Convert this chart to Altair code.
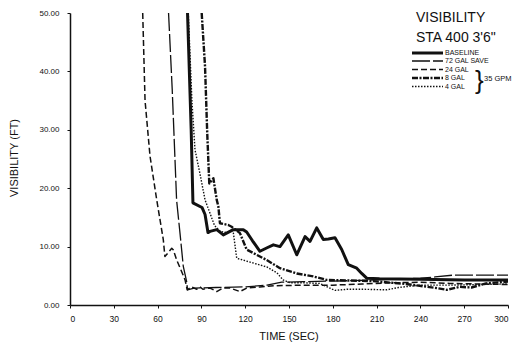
import altair as alt
import pandas as pd

FONT = "Liberation Sans"

series_names = ["BASELINE", "72 GAL SAVE", "24 GAL", "8 GAL", "4 GAL"]

baseline_t = [80.5, 83.0, 84.2, 90.4, 92.5, 94.5, 95.9, 100.5, 105.0, 111.9,
              118.7, 121.0, 125.0, 130.1, 135.0, 139.3, 143.8, 149.5, 155.3, 161.0,
              164.4, 169.0, 173.5, 177.0, 181.5, 186.1, 190.6, 196.4, 199.8, 203.2,
              212.0, 240.0, 270.0, 300.0]
baseline_v = [50.0, 30.0, 17.5, 16.7, 15.5, 12.4, 12.6, 12.9, 12.0, 12.9,
              12.9, 12.5, 11.0, 9.2, 9.8, 10.3, 10.0, 12.0, 8.6, 11.7,
              10.9, 13.2, 11.2, 11.3, 11.5, 9.5, 6.9, 6.3, 5.4, 4.6,
              4.5, 4.4, 4.3, 4.3]

gal72_t = [67.5, 70.0, 71.9, 73.0, 75.3, 77.6, 79.9, 80.5, 85.0, 100.0, 120.0,
           135.0, 145.0, 160.0, 180.0, 200.0, 220.0, 240.0, 250.0, 262.0, 280.0, 300.0]
gal72_v = [50.0, 37.0, 25.0, 18.0, 12.4, 6.6, 4.0, 2.6, 2.9, 3.0, 3.1,
           3.4, 3.9, 4.0, 4.1, 4.2, 4.4, 4.6, 4.8, 5.1, 5.1, 5.1]

gal24_t = [49.8, 51.4, 54.8, 59.4, 63.9, 65.0, 69.7, 70.8, 73.1, 76.5,
           78.8, 80.3, 83.3, 86.8, 89.0, 91.0, 95.9, 100.5, 104.8, 109.6,
           116.4, 121.0, 130.0, 140.0, 160.0, 180.0, 200.0, 220.0, 240.0, 260.0,
           280.0, 300.0]
gal24_v = [50.0, 35.0, 25.5, 18.0, 11.2, 8.3, 9.7, 9.4, 7.7, 5.7,
           4.3, 2.6, 3.1, 2.7, 3.1, 2.7, 2.9, 2.3, 2.9, 2.9,
           2.3, 2.9, 3.1, 3.3, 3.4, 3.4, 3.6, 3.8, 3.9, 3.7,
           3.6, 3.5]

gal8_t = [90.2, 92.5, 94.0, 95.4, 98.2, 100.5, 101.6, 102.7, 108.4, 110.7,
          116.4, 121.0, 125.5, 134.7, 143.8, 155.3, 166.6, 175.8, 190.0, 207.0,
          230.0, 251.0, 258.0, 267.0, 275.0, 285.0, 300.0]
gal8_v = [50.0, 40.8, 29.4, 20.8, 21.7, 18.0, 16.9, 14.0, 13.7, 13.4,
          12.3, 9.5, 8.9, 7.7, 6.3, 5.4, 4.9, 4.3, 4.2, 4.1,
          3.6, 2.9, 2.6, 3.1, 3.0, 3.7, 4.0]

gal4_t = [81.0, 83.5, 85.6, 89.0, 92.5, 95.9, 99.0, 103.0, 107.0, 111.6,
          114.2, 118.5, 125.3, 135.0, 141.8, 145.9, 150.7, 160.0, 171.0, 178.0,
          181.5, 190.0, 200.0, 217.0, 225.0, 240.0, 260.0, 280.0, 300.0]
gal4_v = [50.0, 35.0, 26.6, 22.5, 18.0, 15.7, 13.6, 12.6, 12.4, 12.9,
          8.0, 7.7, 7.2, 6.5, 5.5, 4.3, 3.8, 3.8, 3.7, 2.9,
          2.5, 2.7, 2.7, 2.6, 3.0, 3.4, 3.4, 3.5, 3.6]

x_ticks = [0, 30, 60, 90, 120, 150, 180, 210, 240, 270, 300]
y_ticks = [0, 10, 20, 30, 40, 50]

series_data = {
    "BASELINE": (baseline_t, baseline_v),
    "72 GAL SAVE": (gal72_t, gal72_v),
    "24 GAL": (gal24_t, gal24_v),
    "8 GAL": (gal8_t, gal8_v),
    "4 GAL": (gal4_t, gal4_v),
}
styles = {
    "BASELINE": dict(strokeWidth=3.0),
    "72 GAL SAVE": dict(strokeWidth=1.3, strokeDash=[18, 3]),
    "24 GAL": dict(strokeWidth=1.5, strokeDash=[6, 3]),
    "8 GAL": dict(strokeWidth=2.4, strokeDash=[6, 1.5, 2, 1.5]),
    "4 GAL": dict(strokeWidth=1.4, strokeDash=[1.5, 1.5]),
}

x_scale = alt.Scale(domain=[0, 300], nice=False, zero=True)
y_scale = alt.Scale(domain=[0, 50], nice=False)

x_axis = alt.Axis(values=x_ticks, title=None, grid=False, tickSize=3, labelPadding=6,
                  labelFontSize=8.5, labelFont=FONT, labelColor="#111",
                  domainColor="#111", domainWidth=1.5, tickColor="#111")
y_axis = alt.Axis(values=y_ticks, format=".2f", title=None, grid=False, tickSize=3,
                  labelPadding=8, labelFontSize=8, labelFont=FONT, labelColor="#111",
                  domainColor="#111", domainWidth=1.5, tickColor="#111")

layers = []
draw_order = ["72 GAL SAVE", "24 GAL", "4 GAL", "8 GAL", "BASELINE"]
for i, name in enumerate(draw_order):
    t, v = series_data[name]
    df = pd.DataFrame({"t": t, "v": v, "series": name})
    enc = dict(x=alt.X("t:Q", scale=x_scale), y=alt.Y("v:Q", scale=y_scale))
    if i == 0:
        enc = dict(x=alt.X("t:Q", scale=x_scale, axis=x_axis),
                   y=alt.Y("v:Q", scale=y_scale, axis=y_axis))
    layers.append(
        alt.Chart(df).mark_line(color="#111", clip=True, strokeJoin="round",
                                **styles[name]).encode(**enc)
    )

# Legend (plot-area pixel coordinates)
legend_y = [40, 48, 56.5, 65, 73.5]
for name, ly in zip(series_names, legend_y):
    layers.append(
        alt.Chart(pd.DataFrame({"a": [0]})).mark_rule(color="#111", **styles[name]).encode(
            x=alt.value(342), x2=alt.value(373), y=alt.value(ly))
    )
    layers.append(
        alt.Chart(pd.DataFrame({"a": [0]})).mark_text(
            text=name, font=FONT, fontSize=7, align="left", baseline="middle", color="#111"
        ).encode(x=alt.value(375), y=alt.value(ly))
    )

def label(txt, x, y, size, angle=0, align="left", weight="normal"):
    kw = dict(text=txt, font=FONT, fontSize=size, align=align, baseline="middle",
              color="#111", fontWeight=weight)
    if angle:
        kw["angle"] = angle
    return alt.Chart(pd.DataFrame({"a": [0]})).mark_text(**kw).encode(
        x=alt.value(x), y=alt.value(y))

layers.append(label("VISIBILITY", 346, 5, 14))
layers.append(label("STA 400 3'6\"", 346, 25, 14))
layers.append(label("}", 405, 67.5, 26))
layers.append(label("35 GPM", 414, 65.5, 7.5))
layers.append(label("VISIBILITY (FT)", -55, 145, 11, angle=270, align="center"))
layers.append(label("TIME (SEC)", 219, 324, 11, align="center"))

chart = alt.layer(*layers).properties(
    width=438, height=292,
    padding={"left": 70, "top": 13, "right": 14, "bottom": 51},
    autosize="none",
    background="white",
).configure_view(stroke=None)

chart.save("out.html", embed_options={"renderer": "svg", "actions": False})
